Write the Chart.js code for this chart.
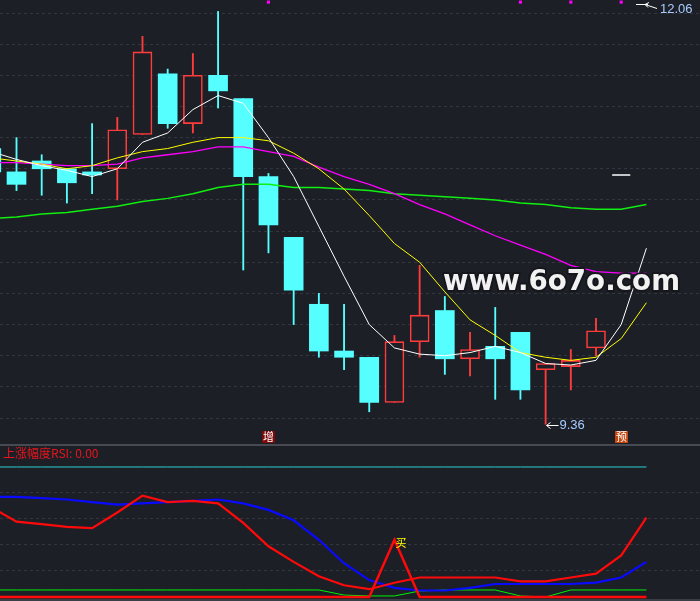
<!DOCTYPE html>
<html>
<head>
<meta charset="utf-8">
<script src="https://cdn.jsdelivr.net/npm/chart.js@4.4.1/dist/chart.umd.min.js"></script>
<style>
  html, body { margin: 0; padding: 0; background: #1c1f26; }
  #wrap { position: relative; width: 700px; height: 601px; overflow: hidden; background: #1c1f26; }
  #mainBox { position: absolute; left: 0; top: 0; width: 700px; height: 444px; }
  #sep { position: absolute; left: 0; top: 444px; width: 700px; height: 2px; background: #474a53; }
  #subBox { position: absolute; left: 0; top: 446px; width: 700px; height: 153px; }
  #bottomLine { position: absolute; left: 0; top: 599px; width: 700px; height: 2px; background: #3a3d45; }
  canvas { display: block; }
</style>
</head>
<body>
<div id="wrap">
  <div id="mainBox"><canvas id="mainChart" width="700" height="444" style="width:700px;height:444px"></canvas></div>
  <div id="sep"></div>
  <div id="subBox"><canvas id="rsiChart" width="700" height="153" style="width:700px;height:153px"></canvas></div>
  <div id="bottomLine"></div>
</div>
<script>
// ---- candles (index 0 is the half-hidden one at the left edge)
const opens  = [11.13, 10.98, 11.05, 11.00, 10.98, 11.00, 11.22, 11.61, 11.29, 11.60, 11.45, 10.95, 10.56, 10.13, 9.83, 9.79, 9.50, 9.89, 10.09, 9.78, 9.86, 9.95, 9.71, 9.73, 9.85];
const closes = [10.98, 10.90, 11.00, 10.91, 10.96, 11.25, 11.75, 11.29, 11.60, 11.50, 10.95, 10.64, 10.22, 9.83, 9.79, 9.50, 9.89, 10.06, 9.78, 9.84, 9.78, 9.58, 9.75, 9.77, 9.96];
const highs  = [11.18, 11.20, 11.09, 11.00, 11.29, 11.33, 11.85, 11.64, 11.74, 12.01, 11.45, 10.97, 10.56, 10.20, 10.13, 9.79, 9.93, 10.38, 10.18, 9.95, 10.11, 9.95, 9.75, 9.84, 10.04];
const lows   = [10.93, 10.86, 10.83, 10.78, 10.84, 10.80, 11.22, 11.26, 11.23, 11.39, 10.35, 10.46, 10.00, 9.79, 9.71, 9.44, 9.50, 9.79, 9.68, 9.67, 9.52, 9.52, 9.36, 9.58, 9.80];

// ---- moving averages, two extra forecast points at the end
const ma5  = [11.11, 11.06, 11.02, 10.99, 10.95, 11.00, 11.17, 11.23, 11.38, 11.47, 11.42, 11.20, 10.95, 10.63, 10.31, 10.00, 9.85, 9.81, 9.80, 9.82, 9.86, 9.82, 9.75, 9.74, 9.77, 10.00, 10.49];
const ma10 = [11.07, 11.05, 11.03, 11.00, 11.02, 11.07, 11.11, 11.13, 11.17, 11.20, 11.20, 11.18, 11.10, 11.00, 10.87, 10.70, 10.52, 10.40, 10.21, 10.03, 9.93, 9.82, 9.79, 9.77, 9.79, 9.91, 10.14];
const ma20 = [11.04, 11.04, 11.03, 11.02, 11.02, 11.03, 11.07, 11.09, 11.11, 11.14, 11.14, 11.11, 11.08, 11.01, 10.95, 10.90, 10.84, 10.77, 10.71, 10.64, 10.57, 10.51, 10.45, 10.38, 10.34, 10.33, 10.33];
const ma60 = [10.68, 10.69, 10.71, 10.72, 10.74, 10.76, 10.79, 10.81, 10.84, 10.88, 10.90, 10.90, 10.88, 10.88, 10.87, 10.86, 10.84, 10.83, 10.82, 10.81, 10.80, 10.78, 10.77, 10.75, 10.74, 10.74, 10.77];

const priceGrid = [9.4, 9.6, 9.8, 10.0, 10.2, 10.4, 10.6, 10.8, 11.0, 11.2, 11.4, 11.6, 11.8, 12.0];
const highMark = 12.06;
const predIdx = 25;
const predPrice = 10.96;
const signalIdx = [11, 21, 23, 25];
const signalLevel = 12.07;
const tagIdx = [11, 25];
const tagText = ['增', '预'];

// ---- lower panel
const rsiLevel = 100;
const rsiRed   = [69, 58, 56, 54, 53, 65, 78, 73, 74, 72, 57, 39, 27, 16, 9, 6, 11, 15, 15, 15, 15, 12, 12, 15, 18, 32, 61];
const rsiBlue  = [77, 77, 76, 75, 73, 71, 72, 73, 74, 75, 72, 67, 59, 44, 26, 13, 7, 5, 5, 7, 10, 10, 10, 10, 11, 15, 27];
const rsiGreen = [5.4, 5.4, 5.4, 5.4, 5.4, 5.4, 5.4, 5.4, 5.4, 5.4, 5.4, 5.4, 5.4, 5.4, 1.5, 0.8, 0.8, 4.6, 5.4, 5.4, 5.4, 0.8, 0, 5.4, 5.4, 5.4, 5.4];
const buySignal = [0, 0, 0, 0, 0, 0, 0, 0, 0, 0, 0, 0, 0, 0, 0, 0, 44, 0, 0, 0, 0, 0, 0, 0, 0, 0, 0];
const rsiGrid = [20, 40, 60, 80];
const rsiTitle = '上涨幅度RSI: 0.00';

const BG = '#1c1f26';
const UP = '#ff3c3c';
const DOWN = '#55ffff';
const GRID = '#33363e';
const X_MIN = 0.345, X_MAX = 28.127;

function pts(arr) {
    return arr.map((v, i) => ({ x: i, y: v }));
}

function hiddenY(min, max, grid) {
    return {
        min: min, max: max,
        ticks: { display: false },
        grid: { color: GRID, drawTicks: false, lineWidth: 1 },
        border: { display: false, dash: [3, 3] },
        afterBuildTicks: s => { s.ticks = grid.map(v => ({ value: v })); },
        afterFit: s => { s.width = 0; }
    };
}

function drawMainChart() {
    const ctx = document.getElementById('mainChart').getContext('2d');
    const isUp = opens.map((o, i) => closes[i] >= o);

    const marks = {
        id: 'marks',
        afterDatasetsDraw(chart) {
            const c = chart.ctx;
            const x = chart.scales.x, y = chart.scales.y;
            const area = chart.chartArea;
            c.save();

            // tag boxes at the bottom
            const tagBg = ['#7d0a0a', '#c2460e'];
            tagIdx.forEach((idx, k) => {
                const px = Math.round(x.getPixelForValue(idx));
                c.fillStyle = tagBg[k];
                c.fillRect(px - 6, area.bottom - 13, 13, 12);
                c.fillStyle = '#ffffff';
                c.font = '11px "Noto Sans CJK SC"';
                c.textAlign = 'center';
                c.textBaseline = 'middle';
                c.fillText(tagText[k], px + 0.5, area.bottom - 7);
            });

            // lowest low label
            let lowI = 0;
            lows.forEach((v, i) => { if (v < lows[lowI]) lowI = i; });
            const lx = Math.round(x.getPixelForValue(lowI)) + 0.5;
            const ly = Math.round(y.getPixelForValue(lows[lowI])) + 1.5;
            c.strokeStyle = '#ffffff';
            c.lineWidth = 1;
            c.beginPath();
            c.moveTo(lx, ly); c.lineTo(lx + 12, ly);
            c.moveTo(lx, ly); c.lineTo(lx + 4, ly - 3);
            c.moveTo(lx, ly); c.lineTo(lx + 4, ly + 3);
            c.stroke();
            c.fillStyle = '#a6ccff';
            c.font = '13px "Liberation Sans"';
            c.textAlign = 'left';
            c.textBaseline = 'middle';
            c.fillText(lows[lowI].toFixed(2), lx + 13, ly);

            // highest price marker at the top right
            const hy = Math.round(y.getPixelForValue(highMark)) + 0.5;
            const hx = area.right - 64;
            c.beginPath();
            c.moveTo(hx, hy); c.lineTo(hx + 12, hy);
            c.moveTo(hx + 9, hy); c.lineTo(hx + 21, hy + 4);
            c.moveTo(hx + 9, hy); c.lineTo(hx + 13, hy - 2);
            c.moveTo(hx + 9, hy); c.lineTo(hx + 12, hy + 3);
            c.stroke();
            c.fillText(highMark.toFixed(2), hx + 24, hy + 5);

            // watermark
            c.font = 'bold 28px "DejaVu Sans"';
            c.textBaseline = 'alphabetic';
            c.lineJoin = 'round';
            c.lineWidth = 4;
            c.strokeStyle = '#15171c';
            c.strokeText('www.6o7o.com', 443, 290, 237);
            c.fillStyle = '#f2f2f2';
            c.fillText('www.6o7o.com', 443, 290, 237);
            c.restore();
        }
    };

    new Chart(ctx, {
        type: 'bar',
        data: {
            datasets: [
                {
                    type: 'bar', label: 'wick',
                    data: lows.map((l, i) => ({ x: i, y: [l, highs[i]] })),
                    backgroundColor: isUp.map(u => u ? UP : DOWN),
                    barThickness: 1.2, grouped: false, order: 5
                },
                {
                    type: 'bar', label: 'body',
                    data: opens.map((o, i) => ({ x: i, y: [o, closes[i]] })),
                    backgroundColor: isUp.map(u => u ? BG : DOWN),
                    borderColor: isUp.map(u => u ? UP : DOWN),
                    borderWidth: isUp.map(u => u ? 1.6 : 0),
                    borderSkipped: false,
                    barThickness: 19, grouped: false, order: 4
                },
                { type: 'line', label: 'MA60', data: pts(ma60), borderColor: '#11ee11', borderWidth: 1.5, pointRadius: 0, order: 3 },
                { type: 'line', label: 'MA20', data: pts(ma20), borderColor: '#ff00ff', borderWidth: 1.3, pointRadius: 0, order: 2 },
                { type: 'line', label: 'MA10', data: pts(ma10), borderColor: '#ffff00', borderWidth: 1, pointRadius: 0, order: 1 },
                { type: 'line', label: 'MA5', data: pts(ma5), borderColor: '#ffffff', borderWidth: 1, pointRadius: 0, order: 0 },
                {
                    type: 'line', label: 'pred',
                    data: [{ x: predIdx - 0.36, y: predPrice }, { x: predIdx + 0.36, y: predPrice }],
                    borderColor: '#ffffff', borderWidth: 1.5, pointRadius: 0, order: 0
                },
                {
                    type: 'line', label: 'signal', showLine: false,
                    data: signalIdx.map(i => ({ x: i, y: signalLevel })),
                    pointStyle: 'rect', pointRadius: 2.2, pointBorderWidth: 0,
                    pointBackgroundColor: '#ff00ff', order: 0
                }
            ]
        },
        options: {
            responsive: false,
            animation: false,
            layout: { padding: 0, autoPadding: false },
            plugins: { legend: { display: false }, tooltip: { enabled: false } },
            elements: { line: { tension: 0 } },
            scales: {
                x: { type: 'linear', min: X_MIN, max: X_MAX, offset: false, display: false },
                y: hiddenY(9.2331, 12.0835, priceGrid)
            }
        },
        plugins: [marks]
    });
}

function drawRsiChart() {
    const ctx = document.getElementById('rsiChart').getContext('2d');

    const rsiText = {
        id: 'rsiText',
        afterDatasetsDraw(chart) {
            const c = chart.ctx;
            const x = chart.scales.x, y = chart.scales.y;
            c.save();
            c.fillStyle = '#e8141c';
            c.font = '12px "Noto Sans CJK SC"';
            c.textAlign = 'left';
            c.textBaseline = 'middle';
            c.fillText(rsiTitle, 3, 7);

            const bi = buySignal.indexOf(Math.max(...buySignal));
            c.fillStyle = '#ffff00';
            c.font = '11px "Noto Sans CJK SC"';
            c.textBaseline = 'top';
            c.fillText('买', x.getPixelForValue(bi) + 1, y.getPixelForValue(buySignal[bi]) - 2);
            c.restore();
        }
    };

    new Chart(ctx, {
        type: 'line',
        data: {
            datasets: [
                { label: 'level', data: pts(rsiRed.map(() => rsiLevel)), borderColor: '#2ad0d0', borderWidth: 1, pointRadius: 0, order: 5 },
                { label: 'green', data: pts(rsiGreen), borderColor: '#00f000', borderWidth: 1, pointRadius: 0, order: 4 },
                { label: 'blue', data: pts(rsiBlue), borderColor: '#0a0aff', borderWidth: 2.2, pointRadius: 0, order: 3 },
                { label: 'red', data: pts(rsiRed), borderColor: '#ff0a0a', borderWidth: 2.2, pointRadius: 0, order: 2 },
                { label: 'buy', data: pts(buySignal), borderColor: '#ff0a0a', borderWidth: 2.5, pointRadius: 0, order: 1 }
            ]
        },
        options: {
            responsive: false,
            animation: false,
            layout: { padding: 0, autoPadding: false },
            plugins: { legend: { display: false }, tooltip: { enabled: false } },
            elements: { line: { tension: 0 } },
            scales: {
                x: { type: 'linear', min: X_MIN, max: X_MAX, offset: false, display: false },
                y: hiddenY(-1.54, 116.15, rsiGrid)
            }
        },
        plugins: [rsiText]
    });
}

drawMainChart();
drawRsiChart();
</script>
</body>
</html>
